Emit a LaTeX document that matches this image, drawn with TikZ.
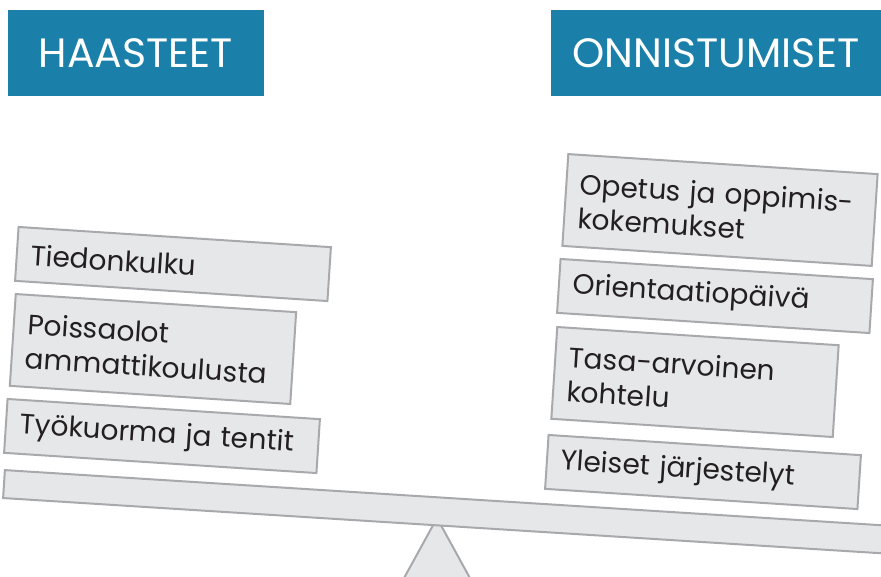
\documentclass[tikz,border=0pt]{standalone}
\usepackage{fontspec}
\setmainfont{Poppins}

\definecolor{headblue}{HTML}{1A80A9}
\definecolor{boxgray}{HTML}{E6E7E8}
\definecolor{edgegray}{HTML}{A7A9AC}
\definecolor{ink}{HTML}{231F20}

\tikzset{
	head/.style={fill=headblue, text=white, inner sep=0pt, minimum height=86pt,
		font=\fontsize{41}{44}\selectfont},
	item/.style={fill=boxgray, draw=edgegray, line width=2pt, text=ink, rotate=-3.7,
		align=left, inner xsep=14pt, inner ysep=0pt, minimum height=54pt,
		text width=#1, font=\fontsize{28}{34}\selectfont},
	tall/.style={minimum height=92pt},
	beam/.style={fill=boxgray, draw=edgegray, line width=2pt, rotate=-3.6,
		minimum width=1000pt, minimum height=28pt, inner sep=0pt}
}

\begin{document}
\begin{tikzpicture}[x=1pt,y=-1pt]
		\useasboundingbox (0,0) rectangle (881,576);
		\clip (0,0) rectangle (881,576);
		
		% otsikot
		\node[head, minimum width=256pt] (haasteet) at (136,53) {HAASTEET};
		\node[head, minimum width=330pt] (onnistumiset) at (716,53) {ONNISTUMISET};
		
		% tukipiste ja vaaka
		\draw[fill=boxgray, draw=edgegray, line width=2pt] (437,518) -- (392,600) -- (482,600) -- cycle;
		\node[beam, anchor=west] (vaaka) at (3,484) {};
		
		% haasteet
		\node[item=285pt] (tiedon) at (173,264) {Tiedonkulku};
		\node[item=253pt, tall] (poissa) at (153,349) {Poissaolot\\ammattikoulusta};
		\node[item=285pt] (tyokuorma) at (162,436) {Työkuorma ja tentit};
		
		% onnistumiset
		\node[item=282pt, tall] (opetus) at (720,210) {Opetus ja oppimis-\\kokemukset};
		\node[item=285pt] (orient) at (715,296) {Orientaatiopäivä};
		\node[item=254pt, tall] (tasa) at (695,382) {Tasa-arvoinen\\kohtelu};
		\node[item=285pt] (yleiset) at (703,472) {Yleiset järjestelyt};
\end{tikzpicture}
\end{document}
